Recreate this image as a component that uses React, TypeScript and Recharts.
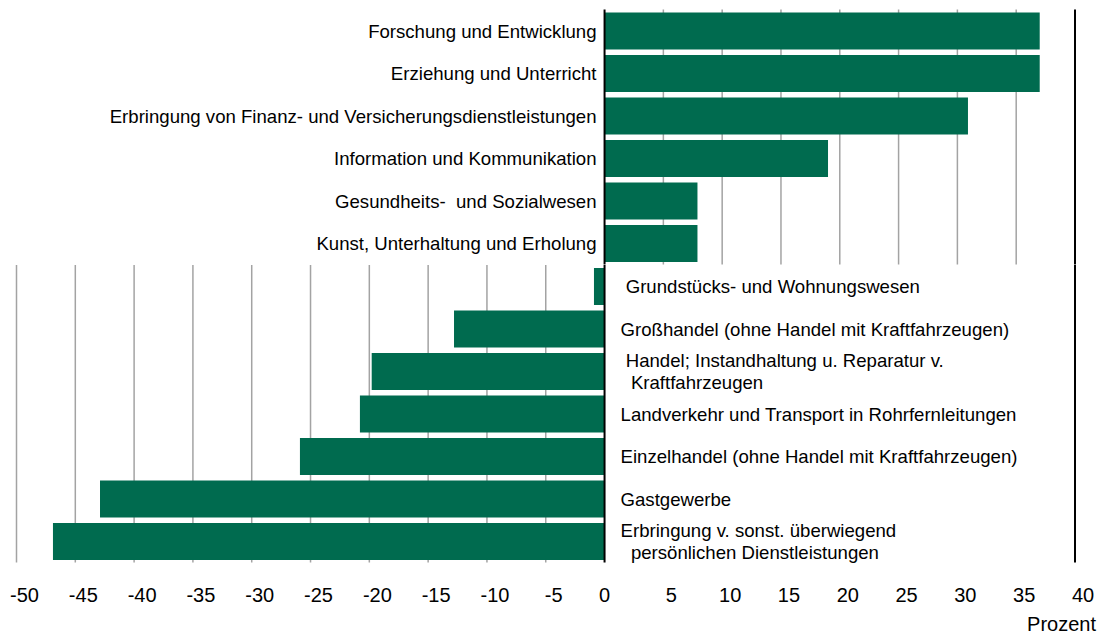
import { BarChart, Bar, XAxis, YAxis, CartesianGrid, ReferenceLine, LabelList } from "recharts";

const topCategories = [
  "Forschung und Entwicklung",
  "Erziehung und Unterricht",
  "Erbringung von Finanz- und Versicherungsdienstleistungen",
  "Information und Kommunikation",
  "Gesundheits-  und Sozialwesen",
  "Kunst, Unterhaltung und Erholung",
];
const topValues = [37.0, 37.0, 30.9, 19.0, 7.9, 7.9];

const bottomCategories = [
  " Grundstücks- und Wohnungswesen",
  "Großhandel (ohne Handel mit Kraftfahrzeugen)",
  " Handel; Instandhaltung u. Reparatur v.\n  Kraftfahrzeugen",
  "Landverkehr und Transport in Rohrfernleitungen",
  "Einzelhandel (ohne Handel mit Kraftfahrzeugen)",
  "Gastgewerbe",
  "Erbringung v. sonst. überwiegend\n  persönlichen Dienstleistungen",
];
const bottomValues = [-0.9, -12.8, -19.8, -20.8, -25.9, -42.9, -46.9];

const xTicks = [-50, -45, -40, -35, -30, -25, -20, -15, -10, -5, 0, 5, 10, 15, 20, 25, 30, 35, 40];
const topGridTicks = [5, 10, 15, 20, 25, 30, 35];
const bottomGridTicks = [-50, -45, -40, -35, -30, -25, -20, -15, -10, -5];
const X_DOMAIN = [-50, 40];

const topData = topCategories.map((name, i) => ({ name, value: topValues[i] }));
const bottomData = bottomCategories.map((name, i) => ({ name, value: bottomValues[i] }));

const GREEN = "#006b4f";
const GRID = "#a3a3a3";
const FONT = "Liberation Sans, Arial, sans-serif";
const W = 1104;
const MARGIN_L = 16.5;
const MARGIN_R = 29;

// grid lines only at the given values, through the axis scale
function gridAt(values: number[]) {
  return ({ xAxis, offset }: any) =>
    values.map((t) =>
      typeof xAxis?.scale === "function"
        ? xAxis.scale(t)
        : offset.left + ((t - X_DOMAIN[0]) / (X_DOMAIN[1] - X_DOMAIN[0])) * offset.width
    );
}

function makeLabel(values: number[]) {
  return (props: any) => {
    const vb = props.viewBox ?? props;
    const { x, y, width, height } = vb;
    const v = values[props.index];
    const zero = v >= 0 ? Math.min(x, x + width) : Math.max(x, x + width);
    const lines = String(props.value).split("\n");
    const cy = y + height / 2;
    const lh = 22;
    const startY = cy - ((lines.length - 1) * lh) / 2;
    const tx = v >= 0 ? zero - 8 : zero + 16;
    return (
      <text
        x={tx}
        y={startY}
        textAnchor={v >= 0 ? "end" : "start"}
        fontSize={18.6}
        fontFamily={FONT}
        fill="#000"
        style={{ whiteSpace: "pre" }}
      >
        {lines.map((l, i) => (
          <tspan key={i} x={tx} y={startY + i * lh} dy="0.35em">
            {l}
          </tspan>
        ))}
      </text>
    );
  };
}

const XTick = (props: any) => {
  const { x, y, payload } = props;
  const dx = payload.value === 0 ? 0 : 8;
  return (
    <text x={x + dx} y={y + 32} dy="0.35em" textAnchor="middle" fontSize={20} fontFamily={FONT} fill="#000">
      {payload.value}
    </text>
  );
};

export default function App() {
  return (
    <div style={{ position: "absolute", left: 0, top: 0, width: W, height: 634, background: "#fff", overflow: "hidden" }}>
      <div style={{ position: "absolute", left: 0, top: 0 }}>
        <BarChart
          width={W}
          height={265}
          data={topData}
          layout="vertical"
          margin={{ top: 9.5, right: MARGIN_R, bottom: 0.5, left: MARGIN_L }}
        >
          <CartesianGrid
            horizontal={false}
            stroke={GRID}
            strokeWidth={1.5}
            verticalCoordinatesGenerator={gridAt(topGridTicks)}
          />
          <XAxis type="number" domain={X_DOMAIN} ticks={xTicks} allowDataOverflow hide />
          <YAxis type="category" dataKey="name" hide />
          <Bar dataKey="value" fill={GREEN} barSize={37} isAnimationActive={false}>
            <LabelList dataKey="name" content={makeLabel(topValues)} />
          </Bar>
          <ReferenceLine x={0} stroke="#000" strokeWidth={2} />
          <ReferenceLine x={40} stroke="#000" strokeWidth={2} />
        </BarChart>
      </div>
      <div style={{ position: "absolute", left: 0, top: 264.5 }}>
        <BarChart
          width={W}
          height={369.5}
          data={bottomData}
          layout="vertical"
          margin={{ top: 0, right: MARGIN_R, bottom: 42, left: MARGIN_L }}
        >
          <CartesianGrid
            horizontal={false}
            stroke={GRID}
            strokeWidth={1.5}
            verticalCoordinatesGenerator={gridAt(bottomGridTicks)}
          />
          <XAxis
            type="number"
            domain={X_DOMAIN}
            ticks={xTicks}
            allowDataOverflow
            interval={0}
            axisLine={false}
            tickLine={false}
            tickSize={0}
            tickMargin={0}
            height={30}
            tick={<XTick />}
          />
          <YAxis type="category" dataKey="name" hide />
          <Bar dataKey="value" fill={GREEN} barSize={37} isAnimationActive={false}>
            <LabelList dataKey="name" content={makeLabel(bottomValues)} />
          </Bar>
          <ReferenceLine x={0} stroke="#000" strokeWidth={2} />
          <ReferenceLine x={40} stroke="#000" strokeWidth={2} />
        </BarChart>
      </div>
      <div
        style={{
          position: "absolute",
          right: 8,
          top: 612,
          fontSize: 20,
          fontFamily: FONT,
          color: "#000",
          lineHeight: "24px",
        }}
      >
        Prozent
      </div>
    </div>
  );
}
